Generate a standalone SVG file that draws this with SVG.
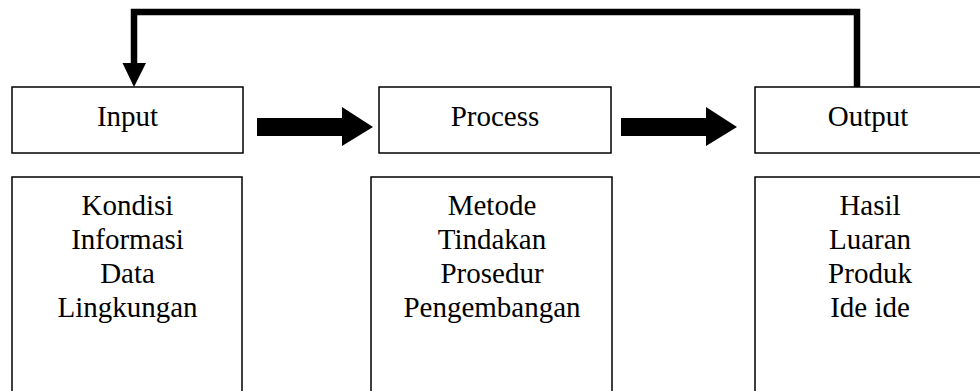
<svg xmlns="http://www.w3.org/2000/svg" width="980" height="391" viewBox="0 0 980 391">
<style>
.box{fill:#fff;stroke:#000;stroke-width:1.5}
.t{font-family:"Liberation Serif","Times New Roman",serif;font-size:29px;fill:#000;text-anchor:middle}
.fb{fill:none;stroke:#000;stroke-width:6.5;stroke-linejoin:miter}
.ar{fill:#000}
</style>
<rect width="980" height="391" fill="#fff"/>
<g id="input">
<rect class="box" x="12" y="87" width="231" height="66"/>
<text class="t" x="127.5" y="126">Input</text>
</g>
<g id="process">
<rect class="box" x="379" y="87" width="232" height="66"/>
<text class="t" x="495" y="126">Process</text>
</g>
<g id="output">
<rect class="box" x="755" y="87" width="240" height="66"/>
<text class="t" x="868" y="126">Output</text>
</g>
<g id="input-detail">
<rect class="box" x="12" y="177" width="230" height="230"/>
<text class="t" x="127.5" y="215">Kondisi</text>
<text class="t" x="127.5" y="249">Informasi</text>
<text class="t" x="127.5" y="283">Data</text>
<text class="t" x="127.5" y="317">Lingkungan</text>
</g>
<g id="process-detail">
<rect class="box" x="371" y="177" width="241" height="230"/>
<text class="t" x="492" y="215">Metode</text>
<text class="t" x="492" y="249">Tindakan</text>
<text class="t" x="492" y="283">Prosedur</text>
<text class="t" x="492" y="317">Pengembangan</text>
</g>
<g id="output-detail">
<rect class="box" x="755" y="177" width="240" height="230"/>
<text class="t" x="870" y="215">Hasil</text>
<text class="t" x="870" y="249">Luaran</text>
<text class="t" x="870" y="283">Produk</text>
<text class="t" x="870" y="317">Ide ide</text>
</g>
<g id="connectors">
<polygon class="ar" points="257,118 342,118 342,107 373,127 342,146 342,136 257,136"/>
<polygon class="ar" points="621,118 706,118 706,107 737,127 706,146 706,136 621,136"/>
<polyline class="fb" points="857,87 857,12 134,12 134,64"/>
<polygon class="ar" points="122.5,63 146,63 134,87"/>
</g>
</svg>
